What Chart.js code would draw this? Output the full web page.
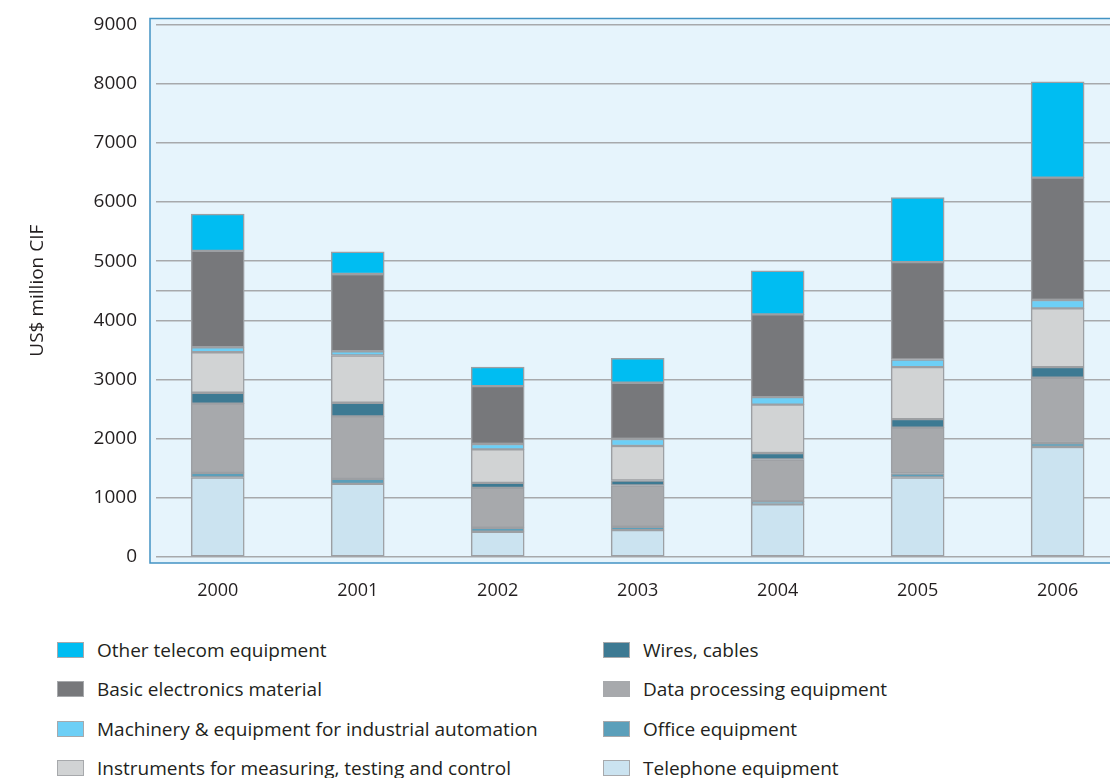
<!DOCTYPE html>
<html>
<head>
<meta charset="utf-8">
<script src="https://cdn.jsdelivr.net/npm/chart.js@4.4.1/dist/chart.umd.min.js"></script>
<style>
  html, body { margin: 0; padding: 0; background: #ffffff; overflow: hidden; }
  #wrap { position: relative; width: 1110px; height: 778px; overflow: hidden; font-family: "Open Sans", sans-serif; }
  #chartBox { position: absolute; left: 0; top: -6px; width: 1110px; height: 626px; }
  #legend {
    position: absolute; left: 57px; top: 638px; width: 1040px;
    display: grid; grid-template-columns: 546px 480px; grid-auto-flow: column;
    grid-template-rows: repeat(4, 39.3px);
    font-size: 19px; color: #231f20;
  }
  .item { display: flex; align-items: center; height: 24px; white-space: nowrap; }
  .swatch { width: 27px; height: 16px; margin-right: 13px; box-sizing: border-box; border: 1px solid #a7a9ac; }
</style>
</head>
<body>
<div id="wrap">
  <div id="chartBox"><canvas id="importsChart"></canvas></div>
  <div id="legend"></div>
</div>
<script>
// Years on the x axis
const years = [2000, 2001, 2002, 2003, 2004, 2005, 2006];

// Imports by product group, US$ million CIF (stacked bottom to top)
const telephoneEquipment = [1343, 1235, 426, 455, 888, 1343, 1859];
const officeEquipment = [78, 85, 68, 56, 51, 68, 68];
const dataProcessing = [1170, 1057, 674, 697, 708, 775, 1102];
const wiresCables = [185, 230, 84, 85, 111, 145, 179];
const instruments = [684, 798, 568, 583, 816, 877, 994];
const machinery = [85, 72, 90, 118, 128, 129, 141];
const basicElectronics = [1629, 1305, 977, 950, 1399, 1647, 2067];
const otherTelecom = [619, 375, 321, 415, 736, 1089, 1618];

// Y axis tick values (4500 only gets a grid line)
const yTicks = [0, 1000, 2000, 3000, 4000, 4500, 5000, 6000, 7000, 8000, 9000];

const series = [
  { label: "Telephone equipment", data: telephoneEquipment, color: "#cbe3f0" },
  { label: "Office equipment", data: officeEquipment, color: "#5b9fba" },
  { label: "Data processing equipment", data: dataProcessing, color: "#a7a9ac" },
  { label: "Wires, cables", data: wiresCables, color: "#3d7a93" },
  { label: "Instruments for measuring, testing and control", data: instruments, color: "#d1d3d4" },
  { label: "Machinery & equipment for industrial automation", data: machinery, color: "#6dcff6" },
  { label: "Basic electronics material", data: basicElectronics, color: "#77787b" },
  { label: "Other telecom equipment", data: otherTelecom, color: "#00bdf2" },
];

const fontFamily = '"Open Sans", sans-serif';

// Light blue panel with a blue frame behind the plot
const panel = {
  id: "panel",
  beforeDraw(chart) {
    const { ctx, chartArea: a } = chart;
    const x0 = a.left - 6, y0 = a.top - 6, y1 = a.bottom + 6;
    ctx.save();
    ctx.fillStyle = "#e6f4fc";
    ctx.fillRect(x0, y0, a.right - x0, y1 - y0);
    ctx.strokeStyle = "#4393c3";
    ctx.lineWidth = 1.5;
    ctx.beginPath();
    ctx.moveTo(a.right, y0);
    ctx.lineTo(x0, y0);
    ctx.lineTo(x0, y1);
    ctx.lineTo(a.right, y1);
    ctx.stroke();
    ctx.restore();
  },
};

const ctx = document.getElementById("importsChart").getContext("2d");
const importsChart = new Chart(ctx, {
  type: "bar",
  data: {
    labels: years,
    datasets: series.map((s) => ({
      label: s.label,
      data: s.data,
      backgroundColor: s.color,
      borderColor: "#9c9fa3",
      borderWidth: 1.5,
      borderSkipped: false,
      barThickness: 53,
    })),
  },
  options: {
    responsive: true,
    maintainAspectRatio: false,
    animation: false,
    layout: { padding: { top: 10, right: 0, bottom: 0, left: 0 } },
    plugins: {
      legend: { display: false },
      tooltip: { enabled: false },
    },
    scales: {
      x: {
        type: "linear",
        stacked: true,
        offset: false,
        min: 1999.559,
        max: 2006.374,
        afterBuildTicks: (scale) => {
          scale.ticks = years.map((y) => ({ value: y }));
        },
        grid: { display: false, drawTicks: false },
        border: { display: false },
        ticks: {
          padding: 23,
          color: "#231f20",
          font: { family: fontFamily, size: 18 },
          callback: (v) => String(v),
        },
        afterFit: (scale) => { scale.height = 63; },
      },
      y: {
        stacked: true,
        min: 0,
        max: 9000,
        afterBuildTicks: (scale) => {
          scale.ticks = yTicks.map((v) => ({ value: v }));
        },
        grid: { color: "#a7a9ac", lineWidth: 1.5, drawTicks: false },
        border: { display: false },
        ticks: {
          padding: 19,
          color: "#231f20",
          font: { family: fontFamily, size: 19 },
          callback: (v) => (v === 4500 ? "" : String(v)),
        },
        title: {
          display: true,
          text: "US$ million CIF",
          color: "#231f20",
          font: { family: fontFamily, size: 19 },
          padding: { top: 26, bottom: 0 },
        },
        afterFit: (scale) => { scale.width = 156; },
      },
    },
  },
  plugins: [panel],
});

// Two-column legend, top series first
const legendEl = document.getElementById("legend");
importsChart.data.datasets.slice().reverse().forEach((ds) => {
  const item = document.createElement("div");
  item.className = "item";
  const sw = document.createElement("span");
  sw.className = "swatch";
  sw.style.background = ds.backgroundColor;
  const txt = document.createElement("span");
  txt.textContent = ds.label;
  item.appendChild(sw);
  item.appendChild(txt);
  legendEl.appendChild(item);
});
</script>
</body>
</html>
